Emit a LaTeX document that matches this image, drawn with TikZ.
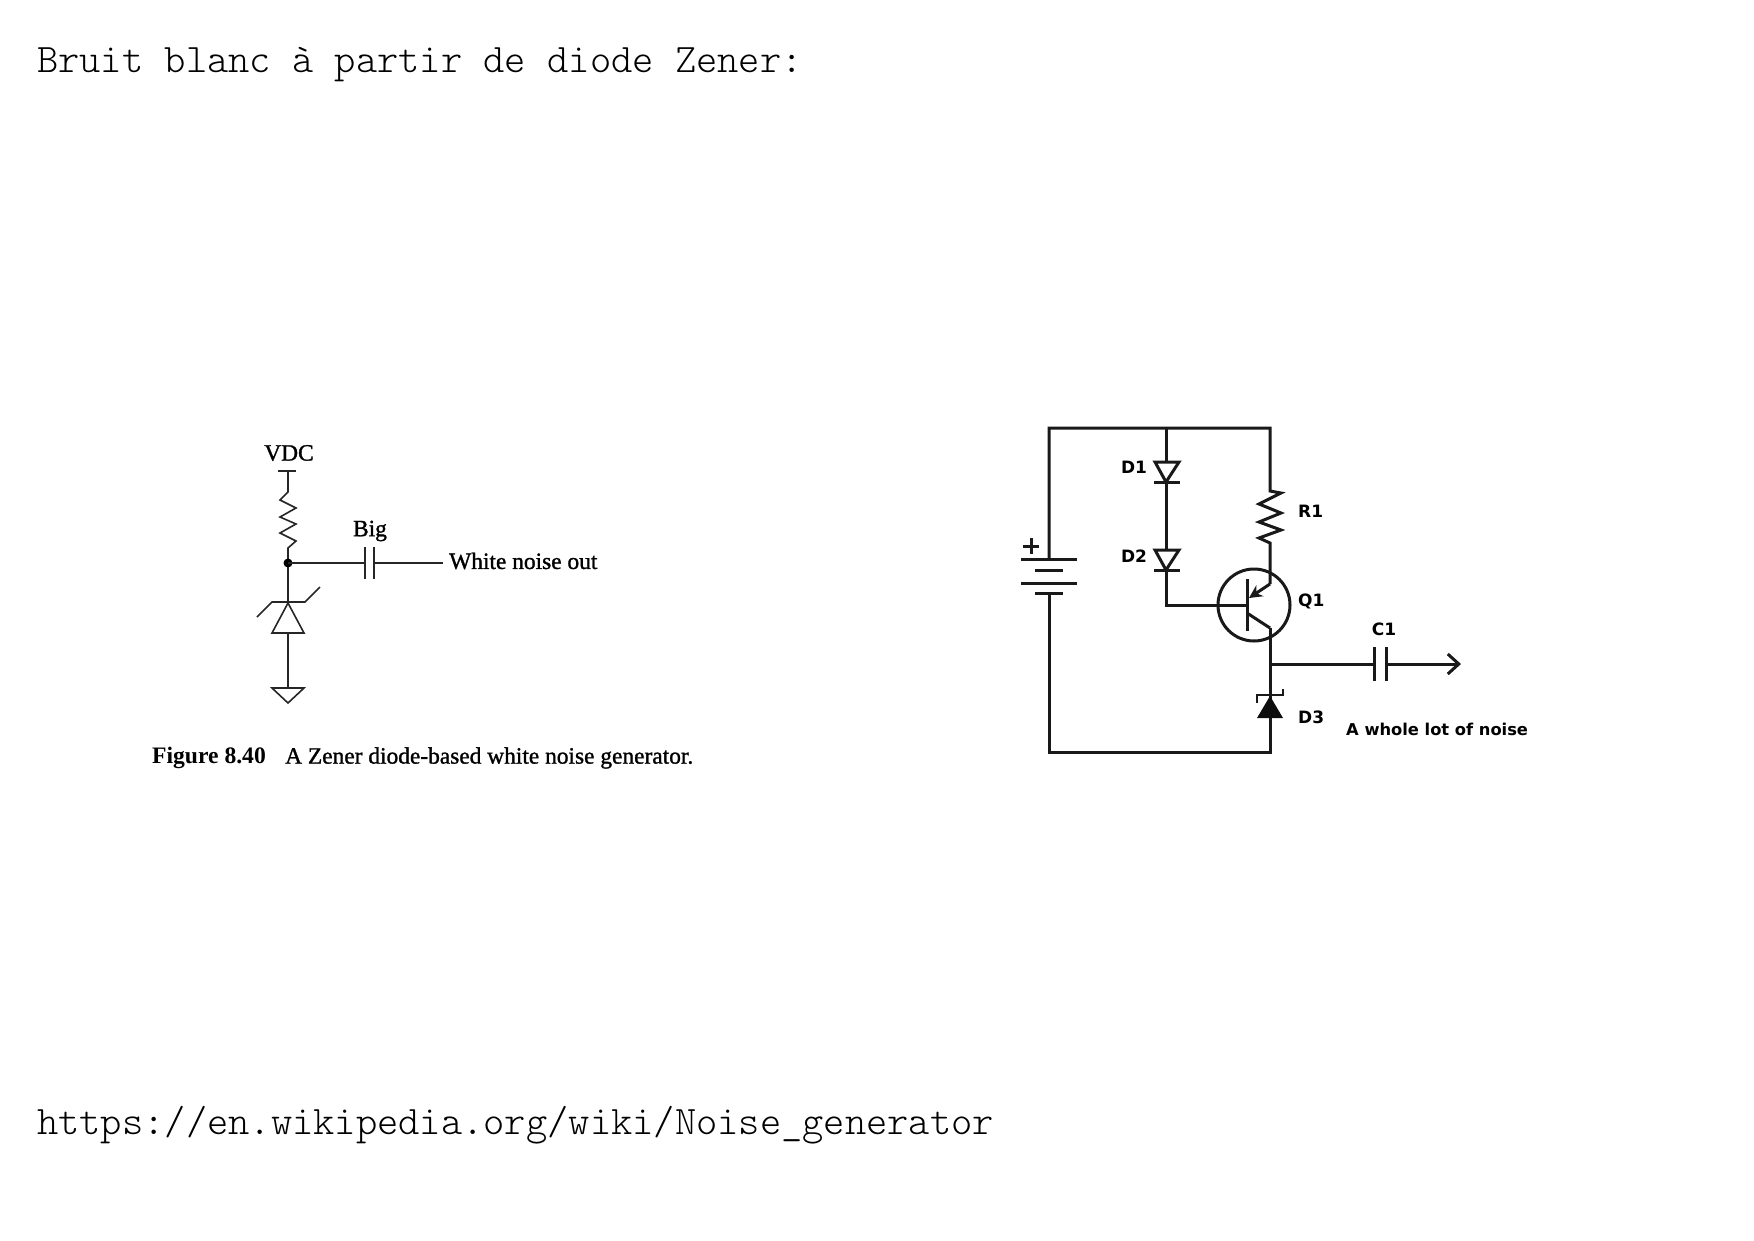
\documentclass[tikz,border=0pt]{standalone}
\usepackage{fontspec}
\setmonofont{Latin Modern Mono Light}
\newfontfamily\bookfont[FakeBold=1.2]{Liberation Serif}
\newfontfamily\bookbold{Liberation Serif Bold}
\newfontfamily\schemfont{DejaVu Sans}
\usetikzlibrary{arrows.meta,positioning}
\tikzset{
  headline/.style={inner sep=0pt, anchor=base west, font=\fontsize{40.5}{44}\ttfamily},
  booklabel/.style={inner sep=0pt, font=\fontsize{23.4}{26}\bookfont},
  bookline/.style={line width=1.6pt, black!85},
  schemlabel/.style={inner sep=0pt, font=\fontsize{17}{20}\schemfont\bfseries},
  schemline/.style={line width=3pt, black!90, line join=miter}
}
\begin{document}
\begin{tikzpicture}[x=1pt,y=-1pt]
\useasboundingbox (0,0) rectangle (1754,1240);

% Titles
\node[headline] (title) at (37,72) {Bruit blanc à partir de diode Zener:};
\node[headline] (link) at (37,1134) {https://en.wikipedia.org/wiki/Noise\_generator};

% Left figure: points
\coordinate (vdc) at (288,471);
\coordinate (rtop) at (288,492);
\coordinate (rbot) at (288,548);
\coordinate (out) at (288,563);
\coordinate (capa) at (365,563);
\coordinate (capb) at (374,563);
\coordinate (wend) at (443,563);
\coordinate (zapex) at (288,603);
\coordinate (zbase) at (288,633);
\coordinate (gnd) at (288,688);

% Left figure: labels
\node[booklabel] (vdclabel) at (289,453) {VDC};
\node[booklabel] (biglabel) at (370,531) {Big};
\node[booklabel, anchor=west] (whitelabel) at (449,561) {White noise out};
\node[inner sep=0pt, anchor=west, font=\fontsize{23.6}{26}\bookbold] (figlabel) at (152,758) {Figure 8.40};
\node[booklabel, anchor=west] (captext) at (285,758) {A Zener diode-based white noise generator.};

% Left figure: circuit
\draw[bookline] (278,471) -- (296,471);
\draw[bookline] (vdc) -- (rtop) -- (280,500) -- (296,508) -- (280,517) -- (296,524)
  -- (280,533) -- (296,541) -- (rbot) -- (out) -- (zapex);
\fill[black] (out) circle (4.5);
\draw[bookline] (out) -- (capa);
\draw[bookline] (capb) -- (wend);
\draw[bookline] (capa) ++(0,-16) -- ++(0,32);
\draw[bookline] (capb) ++(0,-16) -- ++(0,32);
\draw[bookline] (257,617) -- (272,602) -- (305,602) -- (320,587);
\draw[bookline] (zapex) -- (272,633) -- (304,633) -- cycle;
\draw[bookline] (zbase) -- (gnd);
\draw[bookline] (272,688) -- (304,688) -- (288,703) -- cycle;

% Right figure: points
\coordinate (tl) at (1049,428);
\coordinate (tm) at (1166,428);
\coordinate (tr) at (1270,428);
\coordinate (bl) at (1049,752);
\coordinate (br) at (1270,752);
\coordinate (batp) at (1049,559);
\coordinate (batn) at (1049,593);
\coordinate (baseend) at (1166,605);
\coordinate (basebar) at (1247,605);
\coordinate (emit) at (1270,584);
\coordinate (coll) at (1270,628);
\coordinate (r1top) at (1270,491);
\coordinate (r1bot) at (1270,543);
\coordinate (tap) at (1270,664);
\coordinate (cona) at (1374,664);
\coordinate (conb) at (1386,664);
\coordinate (tip) at (1461,664);

% Right figure: labels
\node[schemlabel] (d1label) at (1134,467) {D1};
\node[schemlabel] (d2label) at (1134,556) {D2};
\node[schemlabel, anchor=west] (r1label) at (1298,511) {R1};
\node[schemlabel, anchor=west] (q1label) at (1298,601) {Q1};
\node[schemlabel] (c1label) at (1384,629) {C1};
\node[schemlabel, anchor=west] (d3label) at (1298,717) {D3};
\node[schemlabel, anchor=west, font=\fontsize{16.3}{20}\schemfont\bfseries] (noiselabel) at (1346,729) {A whole lot of noise};

% Right figure: loop
\draw[schemline] (batp) -- (tl) -- (tr) -- (r1top) -- (1281,493) -- (1259,504) -- (1281,513)
  -- (1259,522) -- (1281,530) -- (1259,538) -- (r1bot) -- (emit);
\draw[schemline] (batn) -- (bl) -- (br) -- (coll);

% Battery
\draw[schemline] (1021,559) -- (1077,559);
\draw[schemline] (1035,570) -- (1063,570);
\draw[schemline] (1021,583) -- (1077,583);
\draw[schemline] (1035,593) -- (1063,593);
\draw[schemline] (1023,546) -- (1039,546);
\draw[schemline] (1031,538) -- (1031,554);

% D1 and D2
\draw[schemline] (tm) -- (1166,462);
\draw[schemline] (1166,482) -- (1166,550);
\draw[schemline] (1166,570) -- (baseend) -- (basebar);
\foreach \ytop in {462,550} {
  \draw[schemline] (1155,\ytop) -- (1179,\ytop) -- (1166,\ytop+20) -- cycle;
  \draw[schemline] (1154,\ytop+20) -- (1180,\ytop+20);
}

% Q1
\draw[schemline] (1254,605) circle (36);
\draw[schemline] (1247,579) -- (1247,631);
\draw[schemline, -{Stealth[length=13pt,width=13pt]}] (emit) -- (1249,598);
\draw[schemline] (1247,613) -- (coll);

% Output
\draw[schemline] (tap) -- (cona);
\draw[schemline, -{Straight Barb[length=11pt,width=20pt]}] (conb) -- (tip);
\draw[schemline] (cona) ++(0,-17) -- ++(0,34);
\draw[schemline] (conb) ++(0,-17) -- ++(0,34);

% D3
\fill[black!95] (1257,718) -- (1270,696) -- (1283,718) -- cycle;
\draw[line width=2.2pt, black!90] (1257,703) -- (1257,695) -- (1283,695) -- (1283,689);
\end{tikzpicture}
\end{document}
